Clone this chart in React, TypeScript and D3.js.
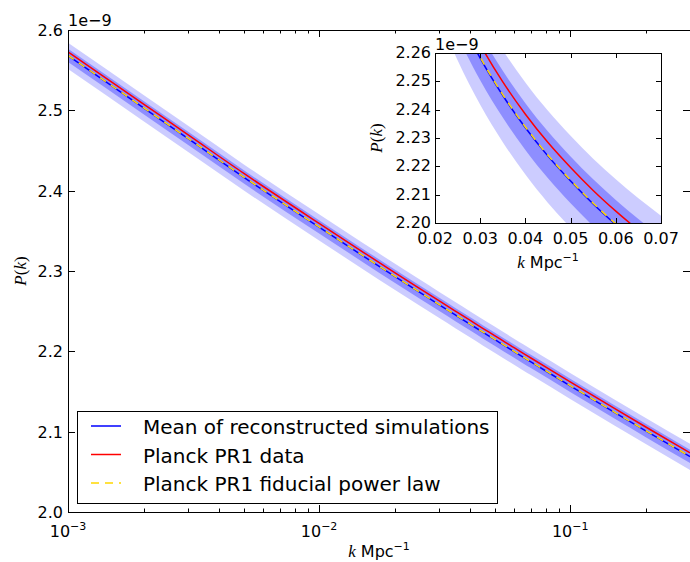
import * as d3 from 'd3';

// wavenumbers (Mpc^-1) and P(k) in units of 1e-9
const kValues = [0.001, 0.002, 0.003, 0.005, 0.01, 0.015, 0.02, 0.025, 0.03, 0.035, 0.04, 0.045, 0.05, 0.055, 0.06, 0.065, 0.07, 0.1, 0.15, 0.2, 0.3];
const meanSim = [2.568, 2.503, 2.465, 2.417, 2.3545, 2.3185, 2.2933, 2.2739, 2.2582, 2.245, 2.2336, 2.2236, 2.2148, 2.2067, 2.1994, 2.1927, 2.1866, 2.1571, 2.1241, 2.101, 2.0689];
const planckData = [2.5728, 2.5078, 2.4698, 2.4218, 2.3593, 2.3233, 2.2981, 2.2787, 2.263, 2.2498, 2.2384, 2.2284, 2.2196, 2.2115, 2.2042, 2.1975, 2.1914, 2.1619, 2.1289, 2.1058, 2.0737];
const fiducial = [2.5683, 2.5033, 2.4653, 2.4173, 2.3548, 2.3188, 2.2936, 2.2742, 2.2585, 2.2453, 2.2339, 2.2239, 2.2151, 2.207, 2.1997, 2.193, 2.1869, 2.1574, 2.1244, 2.1013, 2.0692];
const band1Lo = [2.5602, 2.4952, 2.4572, 2.4092, 2.3467, 2.3107, 2.2855, 2.2661, 2.2504, 2.2372, 2.2258, 2.2158, 2.207, 2.1989, 2.1916, 2.1849, 2.1788, 2.1493, 2.1163, 2.0932, 2.0611];
const band1Hi = [2.5767, 2.5117, 2.4737, 2.4257, 2.3632, 2.3272, 2.302, 2.2826, 2.2669, 2.2537, 2.2423, 2.2323, 2.2235, 2.2154, 2.2081, 2.2014, 2.1953, 2.1658, 2.1328, 2.1097, 2.0776];
const band2Lo = [2.5515, 2.4865, 2.4485, 2.4005, 2.338, 2.302, 2.2768, 2.2574, 2.2417, 2.2285, 2.2171, 2.2071, 2.1983, 2.1902, 2.1829, 2.1762, 2.1701, 2.1406, 2.1076, 2.0845, 2.0524];
const band2Hi = [2.584, 2.519, 2.481, 2.433, 2.3705, 2.3345, 2.3093, 2.2899, 2.2742, 2.261, 2.2496, 2.2396, 2.2308, 2.2227, 2.2154, 2.2087, 2.2026, 2.1731, 2.1401, 2.117, 2.0849];

const mainYTicks = [2.0, 2.1, 2.2, 2.3, 2.4, 2.5, 2.6];
const insetXTicks = [0.02, 0.03, 0.04, 0.05, 0.06, 0.07];
const insetYTicks = [2.2, 2.21, 2.22, 2.23, 2.24, 2.25, 2.26];

const legendItems = [
  { label: 'Mean of reconstructed simulations', color: '#0000ff', dash: undefined },
  { label: 'Planck PR1 data', color: '#ff0000', dash: undefined },
  { label: 'Planck PR1 fiducial power law', color: '#ffd700', dash: '8,6' },
];

const FONT = 'DejaVu Sans, sans-serif';
const MATH = 'Liberation Serif, serif';

function Curves({ x, y, clip }: { x: any; y: any; clip: string }) {
  const idx = kValues.map((_, i) => i);
  const area = (lo: number[], hi: number[]) =>
    d3
      .area<number>()
      .x((i) => x(kValues[i]))
      .y0((i) => y(lo[i]))
      .y1((i) => y(hi[i]))
      .curve(d3.curveMonotoneX)(idx) || '';
  const line = (vals: number[]) =>
    d3
      .line<number>()
      .x((i) => x(kValues[i]))
      .y((i) => y(vals[i]))
      .curve(d3.curveMonotoneX)(idx) || '';
  return (
    <g clipPath={`url(#${clip})`}>
      <path d={area(band2Lo, band2Hi)} fill="#0000ff" fillOpacity={0.2} />
      <path d={area(band1Lo, band1Hi)} fill="#0000ff" fillOpacity={0.3} />
      <path d={line(meanSim)} fill="none" stroke="#0000ff" strokeWidth={1.5} />
      <path d={line(planckData)} fill="none" stroke="#ff0000" strokeWidth={1.5} />
      <path d={line(fiducial)} fill="none" stroke="#ffd700" strokeWidth={1.5} strokeDasharray="7,6" />
    </g>
  );
}

function KLabel({ cx, cy }: { cx: number; cy: number }) {
  return (
    <text x={cx} y={cy} textAnchor="middle" fontSize={16} fontFamily={FONT}>
      <tspan fontFamily={MATH} fontStyle="italic" fontSize={17}>k</tspan>
      <tspan> Mpc</tspan>
      <tspan dy={-7} fontSize={11}>−1</tspan>
    </text>
  );
}

function PLabel({ cx, cy }: { cx: number; cy: number }) {
  return (
    <text transform={`translate(${cx},${cy}) rotate(-90)`} textAnchor="middle" fontSize={17} fontFamily={MATH}>
      <tspan fontStyle="italic">P</tspan>(<tspan fontStyle="italic">k</tspan>)
    </text>
  );
}

export default function App() {
  const W = 690;
  const H = 562;
  const m = { left: 68, right: 690, top: 30, bottom: 512 };
  const ins = { left: 435, right: 661, top: 53, bottom: 223 };

  const x = d3.scaleLog().domain([0.001, 0.3]).range([m.left, m.right]);
  const y = d3.scaleLinear().domain([2.0, 2.6]).range([m.bottom, m.top]);
  const xi = d3.scaleLinear().domain([0.02, 0.07]).range([ins.left, ins.right]);
  const yi = d3.scaleLinear().domain([2.2, 2.26]).range([ins.bottom, ins.top]);

  const xTicks = x.ticks();
  const isMajor = (t: number) => Math.abs(Math.log10(t) - Math.round(Math.log10(t))) < 1e-6;

  const rowY = [426, 454.5, 483];

  return (
    <svg width={W} height={H} style={{ position: 'absolute', left: 0, top: 0, background: '#fff' }}>
      <defs>
        <clipPath id="mainClip">
          <rect x={m.left} y={m.top} width={m.right - m.left} height={m.bottom - m.top} />
        </clipPath>
        <clipPath id="insetClip">
          <rect x={ins.left} y={ins.top} width={ins.right - ins.left} height={ins.bottom - ins.top} />
        </clipPath>
      </defs>

      {/* main panel */}
      <Curves x={x} y={y} clip="mainClip" />

      {/* main x ticks (log, inward, top + bottom) */}
      {xTicks.map((t) => {
        const px = Math.round(x(t)) + 0.5;
        const len = isMajor(t) ? 7 : 3.5;
        return (
          <g key={`xt${t}`} stroke="#000" strokeWidth={1}>
            <line x1={px} x2={px} y1={m.bottom} y2={m.bottom - len} />
            <line x1={px} x2={px} y1={m.top} y2={m.top + len} />
          </g>
        );
      })}
      {xTicks.filter(isMajor).map((t) => (
        <text key={`xl${t}`} x={x(t)} y={537} textAnchor="middle" fontSize={16} fontFamily={FONT}>
          10<tspan dy={-7} fontSize={11}>{`−${Math.round(-Math.log10(t))}`}</tspan>
        </text>
      ))}

      {/* main y ticks */}
      {mainYTicks.map((t) => {
        const py = Math.round(y(t)) + 0.5;
        return (
          <g key={`yt${t}`}>
            <line x1={m.left} x2={m.left + 7} y1={py} y2={py} stroke="#000" />
            <line x1={m.right} x2={m.right - 7} y1={py} y2={py} stroke="#000" />
            <text x={m.left - 5} y={py} textAnchor="end" dominantBaseline="central" fontSize={16} fontFamily={FONT}>
              {d3.format('.1f')(t)}
            </text>
          </g>
        );
      })}

      <rect x={m.left + 0.5} y={m.top + 0.5} width={m.right - m.left} height={m.bottom - m.top} fill="none" stroke="#000" />
      <text x={m.left} y={26} fontSize={16} fontFamily={FONT}>1e−9</text>
      <KLabel cx={(m.left + m.right) / 2} cy={557} />
      <PLabel cx={26} cy={(m.top + m.bottom) / 2} />

      {/* legend */}
      <rect x={77.5} y={411.5} width={420} height={92} fill="#fff" stroke="#000" />
      {legendItems.map((d, i) => (
        <g key={d.label}>
          <line x1={91} x2={121} y1={rowY[i]} y2={rowY[i]} stroke={d.color} strokeWidth={1.5} strokeDasharray={d.dash} />
          <text x={143} y={rowY[i] + 1} dominantBaseline="central" fontSize={20} fontFamily={FONT}>
            {d.label}
          </text>
        </g>
      ))}

      {/* inset */}
      <rect x={ins.left} y={ins.top} width={ins.right - ins.left} height={ins.bottom - ins.top} fill="#fff" />
      <Curves x={xi} y={yi} clip="insetClip" />
      {insetXTicks.map((t) => {
        const px = Math.round(xi(t)) + 0.5;
        return (
          <g key={`ixt${t}`}>
            <line x1={px} x2={px} y1={ins.bottom} y2={ins.bottom - 5} stroke="#000" />
            <line x1={px} x2={px} y1={ins.top} y2={ins.top + 5} stroke="#000" />
            <text x={xi(t)} y={244} textAnchor="middle" fontSize={16} fontFamily={FONT}>
              {d3.format('.2f')(t)}
            </text>
          </g>
        );
      })}
      {insetYTicks.map((t) => {
        const py = Math.round(yi(t)) + 0.5;
        return (
          <g key={`iyt${t}`}>
            <line x1={ins.left} x2={ins.left + 5} y1={py} y2={py} stroke="#000" />
            <line x1={ins.right} x2={ins.right - 5} y1={py} y2={py} stroke="#000" />
            <text x={ins.left - 4} y={py - 1} textAnchor="end" dominantBaseline="central" fontSize={16} fontFamily={FONT}>
              {d3.format('.2f')(t)}
            </text>
          </g>
        );
      })}
      <rect x={ins.left + 0.5} y={ins.top + 0.5} width={ins.right - ins.left} height={ins.bottom - ins.top} fill="none" stroke="#000" />
      <text x={ins.left} y={50} fontSize={16} fontFamily={FONT}>1e−9</text>
      <KLabel cx={(ins.left + ins.right) / 2} cy={268} />
      <PLabel cx={382} cy={(ins.top + ins.bottom) / 2} />
    </svg>
  );
}
